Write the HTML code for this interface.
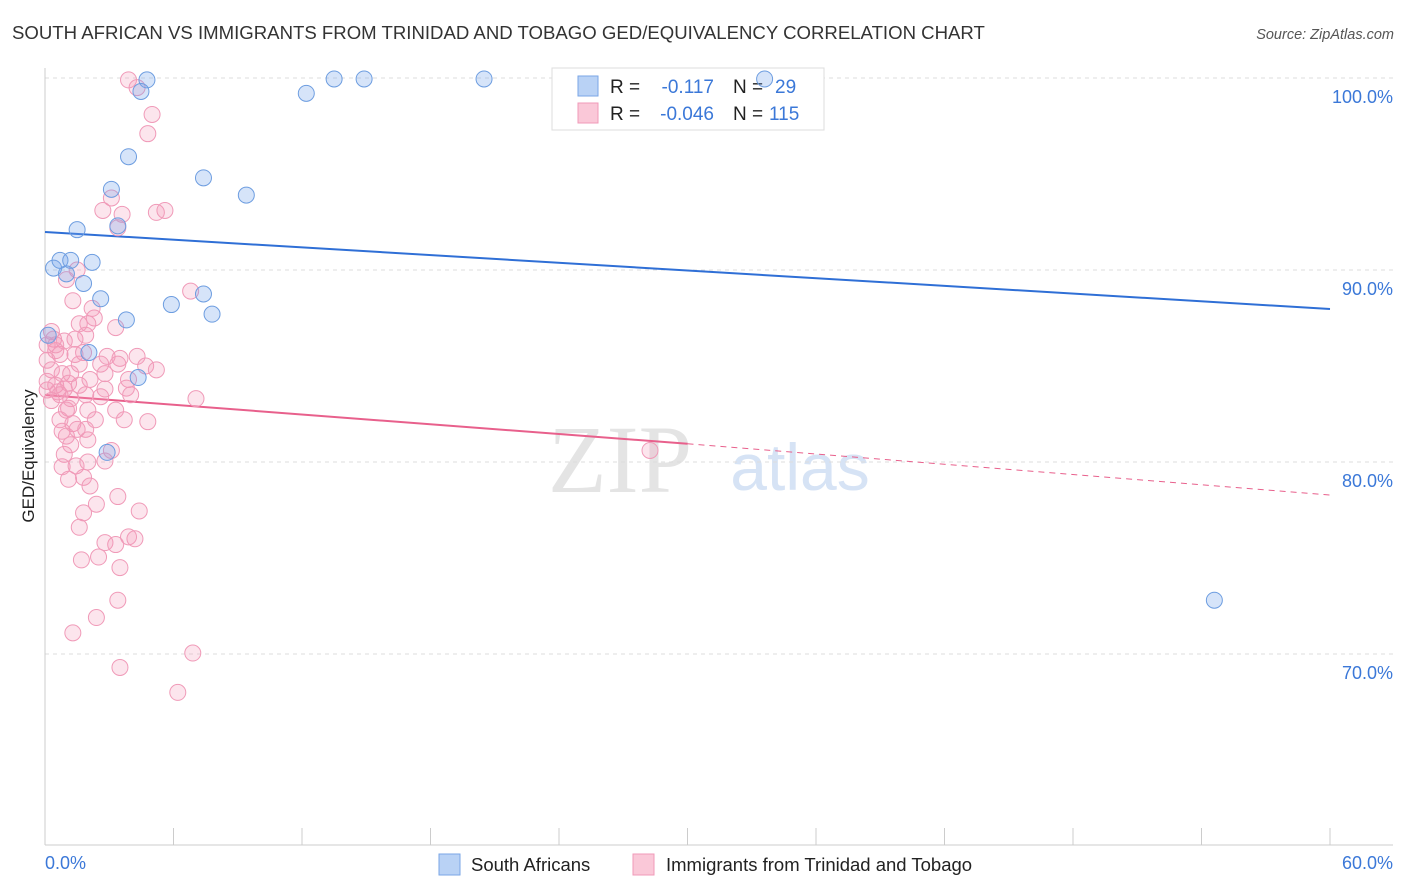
<!DOCTYPE html>
<html><head><meta charset="utf-8"><style>
body{margin:0;background:#fff;font-family:"Liberation Sans",sans-serif;}
svg{display:block}
</style></head><body>
<svg id="chart" width="1406" height="892">
<text x="12" y="39" font-size="18.6" fill="#333">SOUTH AFRICAN VS IMMIGRANTS FROM TRINIDAD AND TOBAGO GED/EQUIVALENCY CORRELATION CHART</text>
<text x="1394" y="39" font-size="14.5" fill="#555" text-anchor="end" font-style="italic">Source: ZipAtlas.com</text>
<text x="620" y="492" font-size="96" fill="#e4e4e4" font-family="Liberation Serif,serif" text-anchor="middle">ZIP</text>
<text x="800" y="490" font-size="66" fill="#d6e3f5" text-anchor="middle">atlas</text>
<g id="grid"></g>
<g id="axes"></g>
<g>
<rect x="552" y="68" width="272" height="62" fill="#fff" stroke="#ddd"/>
<rect x="578" y="76" width="20" height="20" fill="#b9d2f5" stroke="#7aa6e6"/>
<rect x="578" y="103" width="20" height="20" fill="#fac8d8" stroke="#f09ab8"/>
<text x="610" y="93" font-size="19" fill="#222">R =</text>
<text x="714" y="93" font-size="19" fill="#3b78d8" text-anchor="end">-0.117</text>
<text x="733" y="93" font-size="19" fill="#222">N =</text>
<text x="775" y="93" font-size="19" fill="#3b78d8">29</text>
<text x="610" y="120" font-size="19" fill="#222">R =</text>
<text x="714" y="120" font-size="19" fill="#3b78d8" text-anchor="end">-0.046</text>
<text x="733" y="120" font-size="19" fill="#222">N =</text>
<text x="769" y="120" font-size="19" fill="#3b78d8">115</text>
</g>
<g id="trends"></g>
<g id="pts"></g>
<text transform="translate(34,456) rotate(-90)" font-size="17" fill="#222" text-anchor="middle">GED/Equivalency</text>
<text x="45" y="869" font-size="18" fill="#3b78d8">0.0%</text>
<text x="1393" y="869" font-size="18" fill="#3b78d8" text-anchor="end">60.0%</text>
<g>
<rect x="439" y="854" width="21" height="21" fill="#b9d2f5" stroke="#7aa6e6"/>
<text x="471" y="871" font-size="18.5" fill="#222">South Africans</text>
<rect x="633" y="854" width="21" height="21" fill="#fac8d8" stroke="#f09ab8"/>
<text x="666" y="871" font-size="18.5" fill="#222">Immigrants from Trinidad and Tobago</text>
</g>
</svg>
<script>
const yTicks=[100,90,80,70];
const yTickLabels=["100.0%","90.0%","80.0%","70.0%"];
const xTicks=[0,6,12,18,24,30,36,42,48,54,60];
const blueX=[4.76,4.48,12.2,13.5,14.9,20.5,33.6,3.9,3.1,7.4,9.4,3.4,1.5,0.4,0.7,1.2,2.2,1.0,1.8,2.6,5.9,7.4,7.8,3.8,0.15,2.05,4.35,2.9,54.6];
const blueY=[99.9,99.3,99.2,99.95,99.95,99.95,99.95,95.9,94.2,94.8,93.9,92.3,92.1,90.1,90.5,90.5,90.4,89.8,89.3,88.5,88.2,88.75,87.7,87.4,86.6,85.7,84.4,80.5,72.8];
const pinkX=[3.9,4.3,5.0,4.8,3.1,2.7,3.6,5.2,5.6,3.4,1.5,1.0,6.8,1.3,2.2,2.3,1.6,2.0,3.3,0.3,0.4,0.9,1.4,1.9,0.1,0.5,0.7,1.8,2.9,3.5,4.3,0.1,1.6,3.4,4.7,5.2,0.3,0.8,1.2,2.8,3.9,0.1,0.5,1.1,0.1,0.6,0.9,1.6,2.8,3.8,1.2,2.6,7.05,1.0,1.1,2.0,3.3,0.7,1.3,3.7,4.8,0.8,1.5,1.9,1.0,2.0,3.1,0.9,28.25,2.0,2.8,0.8,1.45,1.1,1.8,2.1,3.4,2.4,4.4,1.8,1.6,3.9,4.2,2.8,3.3,2.5,1.7,3.5,3.4,2.4,1.3,6.9,3.5,6.2,0.5,2.1,0.7,2.35,1.2,0.3,1.9,2.6,4.0,1.4];
const pinkY=[99.9,99.5,98.1,97.1,93.75,93.1,92.9,93.0,93.1,92.2,90.0,89.5,88.9,88.4,88.0,87.5,87.2,87.2,87.0,86.8,86.4,86.3,86.4,86.6,86.1,85.8,85.6,85.7,85.5,85.4,85.5,85.3,85.1,85.1,85.0,84.8,84.8,84.6,84.6,84.6,84.3,84.2,84.0,84.1,83.75,83.65,83.8,84.0,83.8,83.85,83.3,83.4,83.3,82.7,82.8,82.7,82.7,82.2,82.0,82.2,82.1,81.6,81.7,81.7,81.35,81.15,80.6,80.4,80.6,80.0,80.05,79.75,79.8,79.1,79.2,78.75,78.2,77.8,77.45,77.35,76.6,76.1,76.0,75.8,75.7,75.05,74.9,74.5,72.8,71.9,71.1,70.05,69.3,68.0,86.1,84.3,83.5,82.2,80.9,83.2,83.5,85.1,83.5,85.6];
const blueTrend=[91.98,87.97];
const pinkTrend=[83.49,80.95,78.28];
const pinkSolidEnd=30.0;
const NS="http://www.w3.org/2000/svg";
const X=v=>45+v/60*1285;
const Y=v=>78+(100-v)*19.2;
function mk(tag,attrs,parent){const e=document.createElementNS(NS,tag);for(const k in attrs)e.setAttribute(k,attrs[k]);parent.appendChild(e);return e;}
const grid=document.getElementById('grid'),axes=document.getElementById('axes'),tr=document.getElementById('trends'),pts=document.getElementById('pts');
yTicks.forEach((t,i)=>{
 const l=mk('line',{x1:45,x2:1393,y1:Y(t),y2:Y(t),stroke:'#ddd','stroke-dasharray':'4,4'},grid);
 
 
 const tx=mk('text',{x:1393,y:Y(t)+25,'font-size':18,fill:'#3b78d8','text-anchor':'end'},grid);
 tx.textContent=yTickLabels[i];
 
 
});
const ya=mk('line',{x1:45,x2:45,y1:68,y2:845,stroke:'#ccc'},axes);


const xa=mk('line',{x1:45,x2:1393,y1:845,y2:845,stroke:'#ccc'},axes);


xTicks.forEach(t=>{
 const l=mk('line',{x1:X(t),x2:X(t),y1:828,y2:845,stroke:'#ccc'},axes);
 
 
});
const bt=mk('line',{x1:X(0),y1:Y(blueTrend[0]),x2:X(60),y2:Y(blueTrend[1]),stroke:'#2f6fd6','stroke-width':2},tr);


const pt1=mk('line',{x1:X(0),y1:Y(pinkTrend[0]),x2:X(pinkSolidEnd),y2:Y(pinkTrend[1]),stroke:'#e8608c','stroke-width':2},tr);


const pt2=mk('line',{x1:X(pinkSolidEnd),y1:Y(pinkTrend[1]),x2:X(60),y2:Y(pinkTrend[2]),stroke:'#e8608c','stroke-width':1,'stroke-dasharray':'6,5'},tr);


pinkX.forEach((v,i)=>{
 const c=mk('circle',{cx:X(v),cy:Y(pinkY[i]),r:8,fill:'rgba(245,150,185,0.25)',stroke:'#f09ab8','stroke-width':1},pts);
 
 
});
blueX.forEach((v,i)=>{
 const c=mk('circle',{cx:X(v),cy:Y(blueY[i]),r:8,fill:'rgba(120,165,235,0.3)',stroke:'#6d9de0','stroke-width':1},pts);
 
 
});
</script>
</body></html>
